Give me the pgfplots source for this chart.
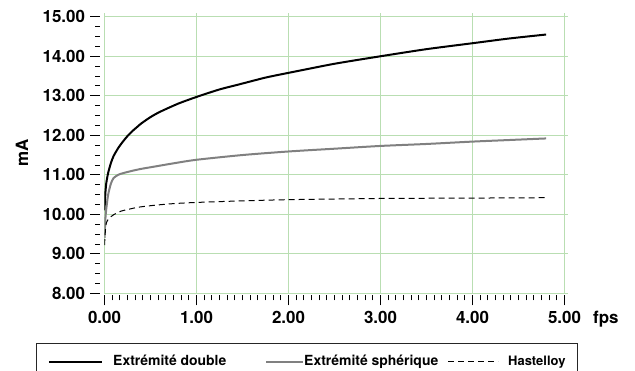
\documentclass[border=0pt]{standalone}
\usepackage{pgfplots}
\pgfplotsset{compat=1.18}
\usepackage{fontspec}
\setmainfont{TeX Gyre Heros}
\definecolor{gridgreen}{RGB}{185,222,178}
\definecolor{curvegray}{RGB}{128,128,128}
\begin{document}
\begin{tikzpicture}
\begin{axis}[
  scale only axis, width=463.7bp, height=280.5bp,
  xmin=0, xmax=5.04, ymin=8, ymax=15.1,
  axis line style={draw=none},
  xtick={0,1,2,3,4,5}, ytick={8,9,10,11,12,13,14,15},
  xticklabels={0.00,1.00,2.00,3.00,4.00,5.00},
  yticklabels={8.00,9.00,10.00,11.00,12.00,13.00,14.00,15.00},
  minor x tick num=11, minor y tick num=3,
  tick align=outside, tick pos=left,
  major tick length=10bp, minor tick length=5bp,
  every tick/.style={black, line width=0.8bp},
  xtick style={yshift=-2bp}, ytick style={xshift=-4bp},
  grid=major, major grid style={gridgreen, line width=0.9bp},
  ticklabel style={font=\fontsize{17}{20}\selectfont\bfseries},
  xticklabel style={yshift=-4bp},
  yticklabel style={xshift=-6bp},
  ylabel={mA},
  ylabel style={font=\fontsize{17}{20}\selectfont\bfseries, at={(axis description cs:-0.178,0.5)}, anchor=center, rotate=0},
  xlabel={fps},
  xlabel style={font=\fontsize{17}{20}\selectfont\bfseries, at={(axis description cs:1.0535,0)}, anchor=base west, inner sep=0pt, yshift=-30bp},
  clip=true,
]
\addplot[black, line width=2bp, line join=round, smooth, tension=0.4] coordinates {
(0,10.10) (0.01,10.55) (0.02,10.80) (0.04,11.05) (0.07,11.30) (0.10,11.48)
(0.15,11.68) (0.20,11.84) (0.25,11.98) (0.30,12.10) (0.35,12.20) (0.40,12.30)
(0.50,12.46) (0.60,12.59) (0.80,12.80) (1.00,12.97) (1.25,13.16) (1.50,13.31)
(1.75,13.46) (2.00,13.58) (2.50,13.81) (3.00,14.00) (3.50,14.18) (4.00,14.33)
(4.40,14.45) (4.80,14.55)
};
\addplot[curvegray, line width=2bp, line join=round, smooth, tension=0.4] coordinates {
(0,9.40) (0.01,9.90) (0.02,10.15) (0.04,10.50) (0.07,10.78) (0.10,10.92)
(0.15,11.00) (0.20,11.04) (0.30,11.10) (0.40,11.15) (0.55,11.21) (0.75,11.29)
(1.00,11.38) (1.50,11.50) (2.00,11.59) (2.50,11.66) (3.00,11.73) (3.50,11.78)
(4.00,11.84) (4.40,11.88) (4.80,11.92)
};
\addplot[black, line width=1bp, dash pattern=on 6bp off 4bp, line join=round, smooth, tension=0.4] coordinates {
(0,9.22) (0.01,9.60) (0.02,9.78) (0.04,9.87) (0.07,9.94) (0.10,9.99)
(0.18,10.08) (0.25,10.12) (0.37,10.18) (0.55,10.23) (0.75,10.27) (1.00,10.30)
(1.50,10.34) (2.00,10.37) (3.00,10.40) (4.00,10.41) (4.80,10.42)
};
\end{axis}
% legend
\draw[black!85, line width=1bp] (-67.5bp,-95bp) rectangle (472.5bp,-49.7bp);
\draw[black, line width=2bp] (-55.5bp,-68.4bp) -- (-2.5bp,-68.4bp);
\node[anchor=base west, inner sep=0pt, font=\fontsize{14}{16}\selectfont\bfseries] at (8.5bp,-71.7bp) {Extrémité double};
\draw[curvegray, line width=2bp] (161.5bp,-68.4bp) -- (198.5bp,-68.4bp);
\node[anchor=base west, inner sep=0pt, font=\fontsize{14}{16}\selectfont\bfseries] at (199.5bp,-71.7bp) {Extrémité sphérique};
\draw[black, line width=1bp, dash pattern=on 6bp off 4bp] (343.5bp,-68.4bp) -- (393.5bp,-68.4bp);
\node[anchor=base west, inner sep=0pt, font=\fontsize{13}{15}\selectfont\bfseries] at (403.5bp,-71.7bp) {Hastelloy};
\pgfresetboundingbox
\useasboundingbox (-104.5bp,-77.7bp) rectangle (530.5bp,293.3bp);
\end{tikzpicture}
\end{document}
